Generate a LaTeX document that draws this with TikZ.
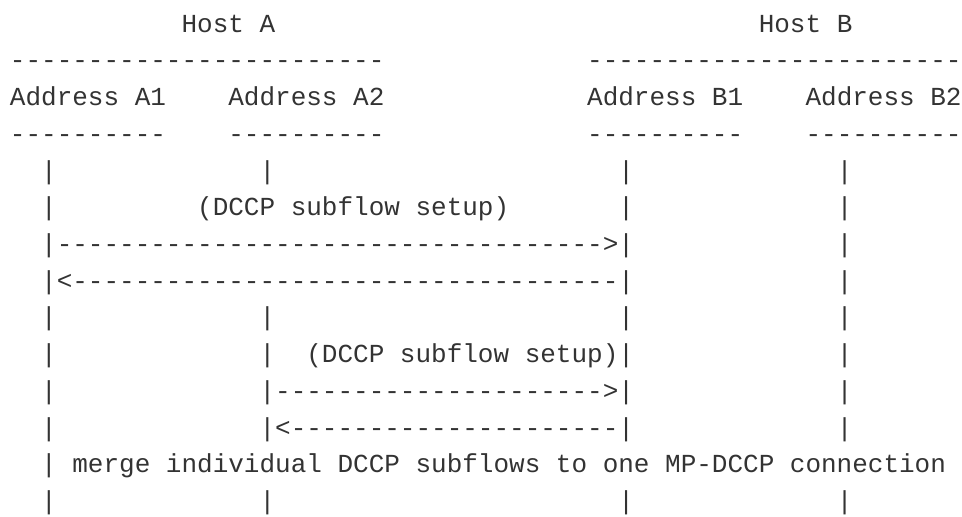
\documentclass[tikz,border=0pt]{standalone}
\usepackage{fontspec}
\setmonofont{Liberation Mono}
\usepackage{tikz}

% a run of n dash characters
\newcommand\dashrun[1]{\foreach \i in {1,...,#1}{-}}

\begin{document}
\begin{tikzpicture}[x=15.6pt,y=-36.75pt,
		txt/.style={anchor=base west,inner sep=0pt,outer sep=0pt,text=black!80,
			font=\ttfamily\fontsize{26}{36}\selectfont}
	]
	\useasboundingbox (-0.641,0.129) rectangle (61.03,14.197);

	% hosts and addresses
	\node [txt] (hostA) at (11,1) {Host A};
	\node [txt] (hostB) at (48,1) {Host B};
	\node [txt] (ruleA) at (0,2) {\dashrun{24}};
	\node [txt] (ruleB) at (37,2) {\dashrun{24}};
	\node [txt] (addrA1) at (0,3) {Address A1};
	\node [txt] (addrA2) at (14,3) {Address A2};
	\node [txt] (addrB1) at (37,3) {Address B1};
	\node [txt] (addrB2) at (51,3) {Address B2};
	\node [txt] (ulA1) at (0,4) {\dashrun{10}};
	\node [txt] (ulA2) at (14,4) {\dashrun{10}};
	\node [txt] (ulB1) at (37,4) {\dashrun{10}};
	\node [txt] (ulB2) at (51,4) {\dashrun{10}};

	% lifelines
	\foreach \r in {5,...,14}
		\node [txt] (lifeA1-\r) at (2,\r) {|};
	\foreach \r in {5,9,10,11,12,14}
		\node [txt] (lifeA2-\r) at (16,\r) {|};
	\foreach \r in {5,...,12,14} {
		\node [txt] (lifeB1-\r) at (39,\r) {|};
		\node [txt] (lifeB2-\r) at (53,\r) {|};
	}

	% first subflow A1 - B1
	\node [txt] (setup1) at (12,6) {(DCCP subflow setup)};
	\node [txt] (req1) at (3,7) {\dashrun{35}>};
	\node [txt] (ack1) at (3,8) {<\dashrun{35}};

	% second subflow A2 - B1
	\node [txt] (setup2) at (19,10) {(DCCP subflow setup)};
	\node [txt] (req2) at (17,11) {\dashrun{21}>};
	\node [txt] (ack2) at (17,12) {<\dashrun{21}};

	\node [txt] (merge) at (4,13) {merge individual DCCP subflows to one MP-DCCP connection};
\end{tikzpicture}
\end{document}
